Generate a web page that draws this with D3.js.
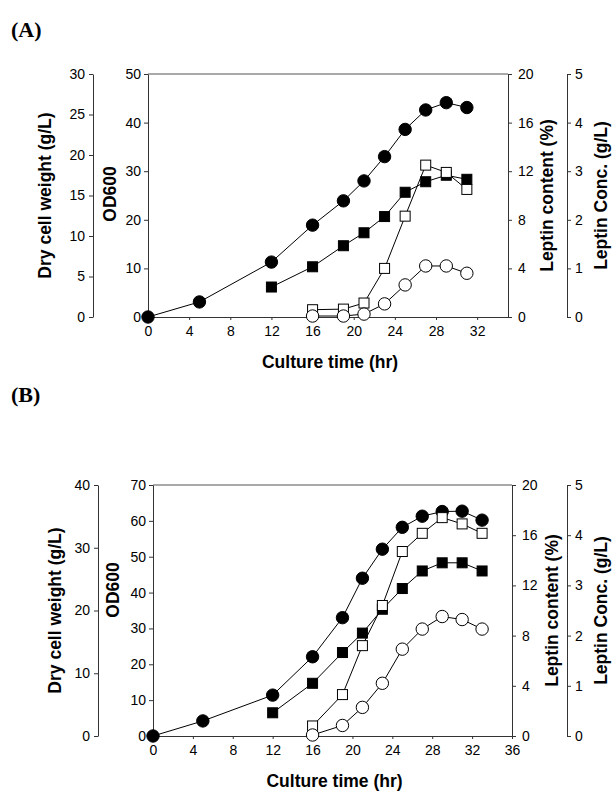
<!DOCTYPE html>
<html>
<head>
<meta charset="utf-8">
<script src="https://cdn.jsdelivr.net/npm/d3@7"></script>
<style>
  body { margin: 0; background: #fff; }
  svg { display: block; }
  .tick text { font-family: "Liberation Sans", Arial, sans-serif; font-size: 14px; fill: #000; }
  .tick line, .domain { stroke: #333; stroke-width: 1; }
  .title { font-family: "Liberation Sans", Arial, sans-serif; font-size: 17.5px; font-weight: bold; }
  .panel { font-family: "Liberation Serif", "Times New Roman", serif; font-size: 22px; font-weight: bold; }
</style>
</head>
<body>
<svg width="613" height="792"></svg>
<script>
// panel A data
var timeA_od = [0, 5, 12, 16, 19, 21, 23, 25, 27, 29, 31];
var odA = [0, 3.1, 11.3, 18.9, 23.9, 28.0, 33.0, 38.6, 42.6, 44.1, 43.1];
var timeA_dcw = [12, 16, 19, 21, 23, 25, 27, 29, 31];
var dcwA = [3.7, 6.2, 8.8, 10.4, 12.4, 15.4, 16.7, 17.5, 17.0];
var timeA_lep = [16, 19, 21, 23, 25, 27, 29, 31];
var contentA = [0.6, 0.65, 1.15, 4.0, 8.3, 12.5, 11.9, 10.5];
var concA = [0.02, 0.02, 0.06, 0.27, 0.66, 1.05, 1.05, 0.9];

// panel B data
var timeB_od = [0, 5, 12, 16, 19, 21, 23, 25, 27, 29, 31, 33];
var odB = [0, 4.2, 11.4, 22.1, 33.0, 44.0, 52.1, 58.2, 61.3, 62.6, 62.7, 60.2];
var timeB_dcw = [12, 16, 19, 21, 23, 25, 27, 29, 31, 33];
var dcwB = [3.7, 8.4, 13.3, 16.4, 20.2, 23.5, 26.3, 27.6, 27.6, 26.3];
var timeB_lep = [16, 19, 21, 23, 25, 27, 29, 31, 33];
var contentB = [0.8, 3.3, 7.2, 10.4, 14.7, 16.15, 17.4, 16.9, 16.15];
var concB = [0.02, 0.21, 0.57, 1.05, 1.73, 2.13, 2.38, 2.32, 2.13];

// tick labels
var xTicksA = [0, 4, 8, 12, 16, 20, 24, 28, 32];
var xTicksB = [0, 4, 8, 12, 16, 20, 24, 28, 32, 36];
var dcwTicksA = [0, 5, 10, 15, 20, 25, 30];
var dcwTicksB = [0, 10, 20, 30, 40];
var odTicksA = [0, 10, 20, 30, 40, 50];
var odTicksB = [0, 10, 20, 30, 40, 50, 60, 70];
var contentTicks = [0, 4, 8, 12, 16, 20];
var concTicks = [0, 1, 2, 3, 4, 5];

var svg = d3.select('svg');
var fmt = d3.format('d');

function zip(xs, ys) {
  return xs.map(function(x, i) { return [x, ys[i]]; });
}

function drawPanel(p) {
  var g = svg.append('g');
  var x = d3.scaleLinear().domain([0, p.xMax]).range([p.left, p.right]);
  var yOd = d3.scaleLinear().domain([0, p.odMax]).range([p.bottom, p.top]);
  var yDcw = d3.scaleLinear().domain([0, p.dcwMax]).range([p.bottom, p.top]);
  var yContent = d3.scaleLinear().domain([0, 20]).range([p.bottom, p.top]);
  var yConc = d3.scaleLinear().domain([0, 5]).range([p.bottom, p.top]);

  // top border
  g.append('line')
    .attr('x1', p.left).attr('x2', p.right)
    .attr('y1', p.top).attr('y2', p.top)
    .attr('stroke', '#555');

  g.append('g').attr('transform', 'translate(0,' + p.bottom + ')')
    .call(d3.axisBottom(x).tickValues(p.xTicks).tickFormat(fmt).tickSizeInner(3).tickSizeOuter(0).tickPadding(6));
  g.append('g').attr('transform', 'translate(' + p.left + ',0)')
    .call(d3.axisLeft(yOd).tickValues(p.odTicks).tickFormat(fmt).tickSizeInner(4).tickSizeOuter(0).tickPadding(3));
  g.append('g').attr('transform', 'translate(' + p.dcwX + ',0)')
    .call(d3.axisLeft(yDcw).tickValues(p.dcwTicks).tickFormat(fmt).tickSizeInner(4).tickSizeOuter(0).tickPadding(4));
  g.append('g').attr('transform', 'translate(' + p.right + ',0)')
    .call(d3.axisRight(yContent).tickValues(contentTicks).tickFormat(fmt).tickSizeInner(4).tickSizeOuter(0).tickPadding(6));
  g.append('g').attr('transform', 'translate(' + p.concX + ',0)')
    .call(d3.axisRight(yConc).tickValues(concTicks).tickFormat(fmt).tickSizeInner(4).tickSizeOuter(0).tickPadding(4));

  var series = [
    { pts: zip(p.tOd, p.od), y: yOd, shape: 'circle', fill: '#000' },
    { pts: zip(p.tDcw, p.dcw), y: yDcw, shape: 'square', fill: '#000' },
    { pts: zip(p.tLep, p.content), y: yContent, shape: 'square', fill: '#fff' },
    { pts: zip(p.tLep, p.conc), y: yConc, shape: 'circle', fill: '#fff' }
  ];

  series.forEach(function(s) {
    var line = d3.line()
      .x(function(d) { return x(d[0]); })
      .y(function(d) { return s.y(d[1]); });
    g.append('path')
      .attr('d', line(s.pts))
      .attr('fill', 'none')
      .attr('stroke', '#000')
      .attr('stroke-width', 1);
  });

  series.forEach(function(s) {
    if (s.shape == 'circle') {
      g.selectAll(null).data(s.pts).enter()
        .append('circle')
        .attr('cx', function(d) { return x(d[0]); })
        .attr('cy', function(d) { return s.y(d[1]); })
        .attr('r', 6.2)
        .attr('fill', s.fill)
        .attr('stroke', '#000');
    } else {
      g.selectAll(null).data(s.pts).enter()
        .append('rect')
        .attr('x', function(d) { return x(d[0]) - 5; })
        .attr('y', function(d) { return s.y(d[1]) - 5; })
        .attr('width', 10)
        .attr('height', 10)
        .attr('fill', s.fill)
        .attr('stroke', '#000');
    }
  });

  // titles
  var mid = (p.top + p.bottom) / 2;
  function vtitle(tx, ty, txt) {
    g.append('text').attr('class', 'title')
      .attr('transform', 'translate(' + tx + ',' + ty + ') rotate(-90)')
      .attr('text-anchor', 'middle')
      .attr('dy', '0.35em')
      .text(txt);
  }
  vtitle(p.dcwTitleX, mid, 'Dry cell weight (g/L)');
  vtitle(p.odTitleX, p.odTitleY, 'OD600');
  vtitle(p.contentTitleX, mid, 'Leptin content (%)');
  vtitle(601, mid, 'Leptin Conc. (g/L)');

  g.append('text').attr('class', 'title')
    .attr('x', (p.left + p.right) / 2 + 2)
    .attr('y', p.bottom + 51)
    .attr('text-anchor', 'middle')
    .text('Culture time (hr)');

  g.append('text').attr('class', 'panel')
    .attr('x', 11).attr('y', p.labelY)
    .text(p.label);
}

drawPanel({
  label: '(A)', labelY: 37,
  left: 148, right: 508, top: 74, bottom: 317,
  xMax: 35, xTicks: xTicksA,
  odMax: 50, odTicks: odTicksA,
  dcwMax: 30, dcwTicks: dcwTicksA,
  dcwX: 93, concX: 567,
  dcwTitleX: 45, odTitleX: 110, odTitleY: 194, contentTitleX: 547,
  tOd: timeA_od, od: odA,
  tDcw: timeA_dcw, dcw: dcwA,
  tLep: timeA_lep, content: contentA, conc: concA
});

drawPanel({
  label: '(B)', labelY: 402,
  left: 153, right: 512, top: 485, bottom: 736,
  xMax: 36, xTicks: xTicksB,
  odMax: 70, odTicks: odTicksB,
  dcwMax: 40, dcwTicks: dcwTicksB,
  dcwX: 98, concX: 567,
  dcwTitleX: 55, odTitleX: 113, odTitleY: 590, contentTitleX: 552,
  tOd: timeB_od, od: odB,
  tDcw: timeB_dcw, dcw: dcwB,
  tLep: timeB_lep, content: contentB, conc: concB
});
</script>
</body>
</html>
